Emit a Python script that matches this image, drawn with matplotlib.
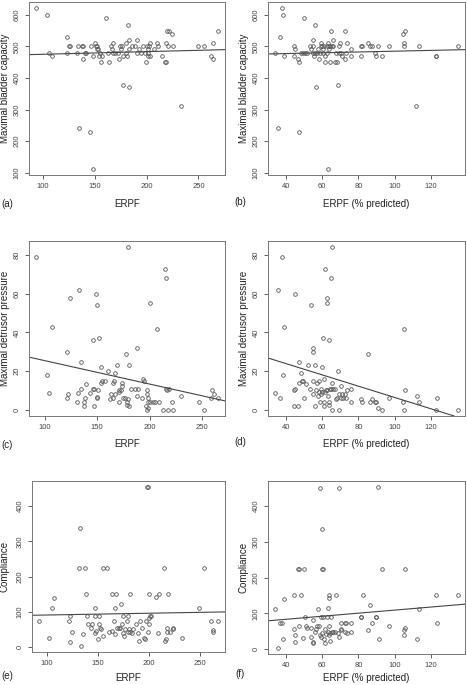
import matplotlib
matplotlib.use("Agg")
import matplotlib.pyplot as plt

plt.rcParams['font.family'] = ['Liberation Sans', 'DejaVu Sans']

# (a) ERPF vs maximal bladder capacity
erpf_a = [93.6, 104, 106, 109, 123, 123, 125, 126.6, 133, 134, 135, 138, 139, 139, 141, 142,
          145, 146, 148, 148, 150, 151, 152, 152, 153, 154, 155, 156, 157, 160.5, 162.5, 164,
          166, 167, 168, 168, 170, 172, 173, 174.6, 175, 176, 177, 177, 180, 180.5, 181, 182,
          183, 183.5, 183, 186, 189, 191, 191, 192.6, 195, 197, 198.6, 199.7, 200, 201, 201,
          201.5, 202, 203, 203.5, 206.7, 210, 211, 215, 218, 219, 218.6, 219.6, 220.5, 222,
          224.7, 225, 233, 250, 255, 262, 264, 264, 268.6]
cap_a = [620, 599, 479, 470, 529, 479, 500, 500, 479, 500, 240, 500, 500, 460, 479, 479,
         228, 500, 113, 470, 510, 500, 490, 500, 490, 470, 479, 450, 470, 589, 479, 450,
         500, 490, 510, 479, 479, 479, 460, 500, 490, 500, 377, 470, 479, 510, 470, 568,
         521, 372, 490, 500, 500, 521, 479, 490, 479, 500, 479, 450, 500, 479, 470,
         490, 500, 510, 470, 490, 510, 500, 470, 450, 450, 510, 549, 500, 549,
         540, 500, 310, 500, 500, 470, 510, 460, 549]

# (b) ERPF (% predicted) vs maximal bladder capacity
pct_b = [34.3, 36, 36.9, 37.8, 38.5, 39.3, 44.4, 44.6, 45.1, 47, 47.5, 47.5, 48.3, 49.4, 50,
         50.5, 51.6, 53.4, 54, 55, 55, 55.3, 55.4, 56.2, 56.4, 56.6, 57.1, 58, 58.6, 59, 59.3,
         59.7, 60, 60.4, 60.8, 61, 61.5, 61.9, 62.6, 63, 63.4, 63.5, 63.7, 64, 64.5, 64.5,
         65.2, 65.4, 66, 66.3, 67.4, 67.8, 68.5, 69, 69.2, 69.6, 70, 70.3, 70.9, 72.4, 72.8,
         73.3, 73.8, 76.2, 76.2, 81.2, 81.6, 82, 85.4, 86.5, 87.4, 89.3, 89.7, 91, 93, 96.8,
         104.6, 105, 105.3, 105.7, 112, 113.4, 122.6, 123, 134.7]
cap_b = [479, 240, 529, 620, 599, 470, 500, 470, 490, 460, 450, 228, 479, 479, 589,
         479, 479, 500, 490, 479, 521, 500, 470, 479, 568, 372, 479, 490, 460, 479, 500,
         510, 500, 479, 490, 500, 470, 450, 500, 479, 510, 113, 500, 490, 450, 500,
         549, 500, 521, 500, 450, 479, 450, 377, 500, 479, 510, 479, 470, 549, 460,
         479, 510, 490, 470, 470, 500, 500, 510, 500, 500, 479, 470, 500, 470, 500,
         540, 510, 500, 549, 310, 500, 470, 470, 500]

# (c) ERPF vs maximal detrusor pressure
erpf_c = [92, 102, 104.4, 107, 121.3, 121.6, 122.6, 124.5, 131, 131.8, 133, 135, 134.3, 137.8,
          137.5, 138, 139.7, 143, 146, 146.7, 146.4, 147.3, 149.3, 150, 149.6, 150.2, 151, 152,
          154, 154, 154.7, 158, 160, 162, 163, 165, 165, 165.8, 166.7, 167.4, 169, 170.5, 171,
          171, 173, 173.4, 174, 174.7, 177, 177.5, 178.5, 178.8, 179.4, 179.7, 180, 180.7,
          182.6, 186.4, 188, 188.3, 189.3, 192.5, 193.7, 194.4, 196.6, 197.9, 197.6, 198,
          198.2, 198.5, 198.5, 200, 200.7, 203.3, 205.5, 207.4, 208.7, 212.8, 214.4, 215.3,
          215.7, 216.6, 217.6, 218.8, 221.7, 222.3, 230.3, 246.8, 252.2, 258.6, 260, 261, 265]
pdet_c = [79, 17.8, 8.7, 43, 29.9, 5.8, 8, 58, 3.8, 8.7, 62, 10.8, 24.8, 4,
          1.7, 5.8, 13, 8.7, 10.8, 1.7, 35.8, 10.8, 60, 54, 6.6, 5.8, 10, 36.9,
          22, 14, 15, 15, 20, 5.2, 8, 5.8, 14, 15, 19, 8, 22.9, 9, 10,
          3.8, 10, 14, 12, 5.8, 5.8, 28.8, 4, 2.6, 5.2, 84, 1.7, 22.9,
          10.8, 10.8, 32, 7, 10.8, 5.8, 15.9, 15, 1.7, 0, 10, 8,
          5.8, 3.8, 0.8, 55, 3.8, 3.8, 3.8, 42, 3.8, 0, 73, 10.8,
          68, 10, 0, 10.8, 3.8, 0, 7, 3.8, 0, 5.8, 10, 8, 5.8]

# (d) ERPF (% predicted) vs maximal detrusor pressure
pct_d = [34.3, 36, 36.9, 37.8, 38.5, 39.3, 44.4, 44.6, 45, 45.1, 47, 47.4, 47.5, 48.5, 49,
         49.7, 50.1, 51, 52.1, 53.6, 54, 55, 55.1, 55.3, 55.3, 56.4, 56.4, 56.8, 57.5, 57.7,
         58.4, 58.6, 59, 59.3, 59.7, 60, 60, 60.4, 61, 61.1, 61.1, 61.5, 61.7, 62.3, 62.6, 63,
         63, 63.5, 63.7, 63.9, 64, 64.3, 64.8, 65, 65.4, 65.7, 65.7, 66.3, 67.4, 67.8, 68.5,
         68.9, 69.2, 69.6, 70.3, 70.5, 70.9, 71.4, 72.7, 73.1, 73.7, 76.2, 76.2, 81.2, 82,
         85.6, 86.5, 87.4, 89.3, 89.8, 91.1, 93.1, 96.8, 104.6, 105.1, 105.5, 105.3, 112.1,
         113.6, 122.8, 123.3, 134.7]
pdet_d = [8.7, 62, 5.8, 79, 17.8, 43, 1.7, 10, 10.8, 60, 1.7, 24.8, 14, 19, 15,
          15, 5.8, 13, 22.9, 10.8, 54, 15, 32, 29.9, 8, 1.7, 22.9, 10, 14, 7,
          9, 15, 3.8, 8, 10.8, 9, 22, 36.9, 3.8, 1.7, 15.9, 9, 73, 10, 58, 10,
          55, 7, 35.8, 3.8, 2.6, 10.8, 68, 10.8, 14, 84, 0, 10.8, 10.8, 5.2, 5.8,
          20, 0, 8, 12, 5.8, 8, 5.8, 8, 5.8, 10, 3.8, 10.8, 5.2, 3.8,
          28.8, 3.8, 5.2, 3.8, 3.8, 0.8, 0, 5.8, 3.8, 42, 10, 0, 7,
          3.8, 0, 5.8, 0]

# (e) ERPF vs compliance
erpf_e = [92.5, 102.3, 104.9, 107.5, 122.5, 122.2, 122.8, 125, 131.3, 132.6, 133.9, 135.9,
          137.8, 138.5, 139.1, 140.4, 143.7, 144.3, 147, 147.3, 147.3, 148.3, 150.5, 150.9,
          151.5, 152.5, 152.8, 155.1, 155.1, 159.3, 161, 163.6, 163.9, 165.9, 166.5, 167.2,
          168.1, 168.8, 170.8, 171.7, 172.4, 173.4, 174.7, 174.7, 175.3, 176.6, 178.3, 179.6,
          179.9, 180.5, 181.5, 181.8, 183.1, 184.4, 187.7, 189, 190.3, 191, 193.6, 194.9,
          195.9, 197.5, 198.5, 199.4, 199.4, 199.8, 200.1, 200.4, 201.4, 202.4, 206.6, 208.9,
          209.9, 214.4, 216.1, 216.7, 217.4, 218, 218.7, 221, 223.2, 223.9, 232.4, 248.7,
          253.9, 260.7, 262.7, 263, 267.6]
comp_e = [75, 28, 112, 140, 15, 75, 89, 45, 225, 337, 5, 37,
          225, 150, 89, 65, 56, 65, 42, 112, 89, 46, 23, 65,
          89, 56, 51, 225, 31, 225, 45, 150, 46, 75, 112, 37,
          150, 56, 56, 56, 122, 65, 42, 89, 31, 51, 75, 89,
          45, 51, 150, 45, 42, 51, 65, 42, 17, 75, 56, 27,
          23, 75, 453, 453, 45, 65, 150, 84, 89, 89, 144, 42,
          150, 225, 17, 23, 45, 56, 150, 45, 51, 56, 28, 112,
          225, 75, 45, 48, 75]

# (f) ERPF (% predicted) vs compliance
pct_f = [34.3, 36, 36.9, 37.8, 38.5, 39.3, 44.4, 44.6, 45, 45.3, 47, 47.5, 47.5, 48.5, 49.4,
         50.1, 50.5, 51.2, 52, 53.8, 54, 55, 55.1, 55.3, 56.4, 56.6, 57.1, 57.9, 58.2, 59,
         59.1, 59.3, 59.5, 59.9, 60, 60.2, 60.6, 60.8, 61, 61.5, 61.9, 62.3, 62.6, 63.2, 63.5,
         63.9, 63.9, 64.1, 64.1, 64.5, 64.6, 65.2, 65.6, 66.3, 67.2, 67.9, 68.9, 69.1, 69.4,
         70.2, 70.5, 70.7, 72.4, 72.7, 73.1, 73.7, 76.2, 76.2, 81.2, 81.6, 82.3, 85.6, 86.3,
         87.4, 89.5, 89.8, 91.1, 91.3, 93.1, 96.8, 104.9, 105.1, 105.5, 105.7, 112.3, 113.6,
         122.8, 123.3, 134.7]
comp_f = [112, 4, 74, 74, 28, 140, 150, 56, 40, 21, 225, 225, 64, 150, 31,
          225, 89, 64, 59, 35, 60, 16, 20, 80, 49, 56, 63, 112, 64, 40,
          450, 35, 89, 336, 45, 225, 225, 89, 29, 56, 17, 42, 89, 49, 114,
          63, 40, 150, 144, 45, 23, 89, 47, 47, 49, 150, 45, 33, 450,
          74, 54, 56, 74, 49, 74, 45, 74, 49, 89, 89, 150, 53, 122,
          74, 89, 89, 452, 29, 225, 64, 40, 54, 225, 58, 29, 112,
          150, 74, 150]

# fitted regression lines (intercept, slope)
fit_a = (466.4, 0.0839)
fit_b = (472.0, 0.126)
fit_c = (37.5, -0.1215)
fit_d = (35.6, -0.2935)
fit_e = (86.7, 0.0504)
fit_f = (65.9, 0.4295)

erpf_ticks = [100, 150, 200, 250]
pct_ticks = [40, 60, 80, 100, 120]
cap_ticks = [100, 200, 300, 400, 500, 600]
pdet_ticks = [0, 20, 40, 60, 80]
comp_ticks = [0, 100, 200, 300, 400]

W, H = 467, 685
fig = plt.figure(figsize=(W / 100, H / 100), dpi=100)

# x, y, fit, xticks, yticks, xlabel, ylabel, tag,
# box (left, right, top, bottom in px), label row y, tag y
panels = [
    (erpf_a, cap_a, fit_a, erpf_ticks, cap_ticks, "ERPF", "Maximal bladder capacity", "(a)", (29, 225, 2, 175), 204, 204),
    (pct_b, cap_b, fit_b, pct_ticks, cap_ticks, "ERPF (% predicted)", "Maximal bladder capacity", "(b)", (268, 465, 2, 175), 204, 202),
    (erpf_c, pdet_c, fit_c, erpf_ticks, pdet_ticks, "ERPF", "Maximal detrusor pressure", "(c)", (29, 225, 241, 416), 444, 445),
    (pct_d, pdet_d, fit_d, pct_ticks, pdet_ticks, "ERPF (% predicted)", "Maximal detrusor pressure", "(d)", (268, 465, 241, 416), 444, 442),
    (erpf_e, comp_e, fit_e, erpf_ticks, comp_ticks, "ERPF", "Compliance", "(e)", (32, 225, 481, 652), 678, 676),
    (pct_f, comp_f, fit_f, pct_ticks, comp_ticks, "ERPF (% predicted)", "Compliance", "(f)", (268, 465, 481, 654), 678, 674),
]

grey = "#555555"
for x, y, fit, xt, yt, xl, yl, tag, box, ly, ty in panels:
    l, r, t, b = box
    ax = fig.add_axes([l / W, (H - b) / H, (r - l) / W, (b - t) / H])
    ax.plot(x, y, "o", ms=2.6, mfc="none", mec=grey, mew=0.6)
    ax.margins(0.04)
    xlim, ylim = ax.get_xlim(), ax.get_ylim()
    ax.axline((x[0], fit[0] + fit[1] * x[0]), slope=fit[1], color="#444444", lw=0.8)
    ax.set_xlim(xlim)
    ax.set_ylim(ylim)
    ax.set_xticks(xt)
    ax.set_yticks(yt)
    ax.tick_params(labelsize=5.5, length=3, width=0.6, colors="#444444", pad=3)
    for lab in ax.get_yticklabels():
        lab.set_rotation(90)
        lab.set_va("center")
    for s in ax.spines.values():
        s.set_color("#777777")
        s.set_linewidth(0.7)
    left_col = l < 100
    cx = (l + r) / 2
    fig.text(cx / W, 1 - ly / H, xl, ha="center", va="center", fontsize=7, color="#222222")
    fig.text((5 if left_col else 244) / W, 1 - (t + b) / 2 / H, yl, ha="center", va="center",
             rotation=90, fontsize=7, color="#222222")
    fig.text((7 if left_col else 240) / W, 1 - ty / H, tag, ha="center", va="center",
             fontsize=7, color="#222222")

fig.savefig("out.png", dpi=100)
